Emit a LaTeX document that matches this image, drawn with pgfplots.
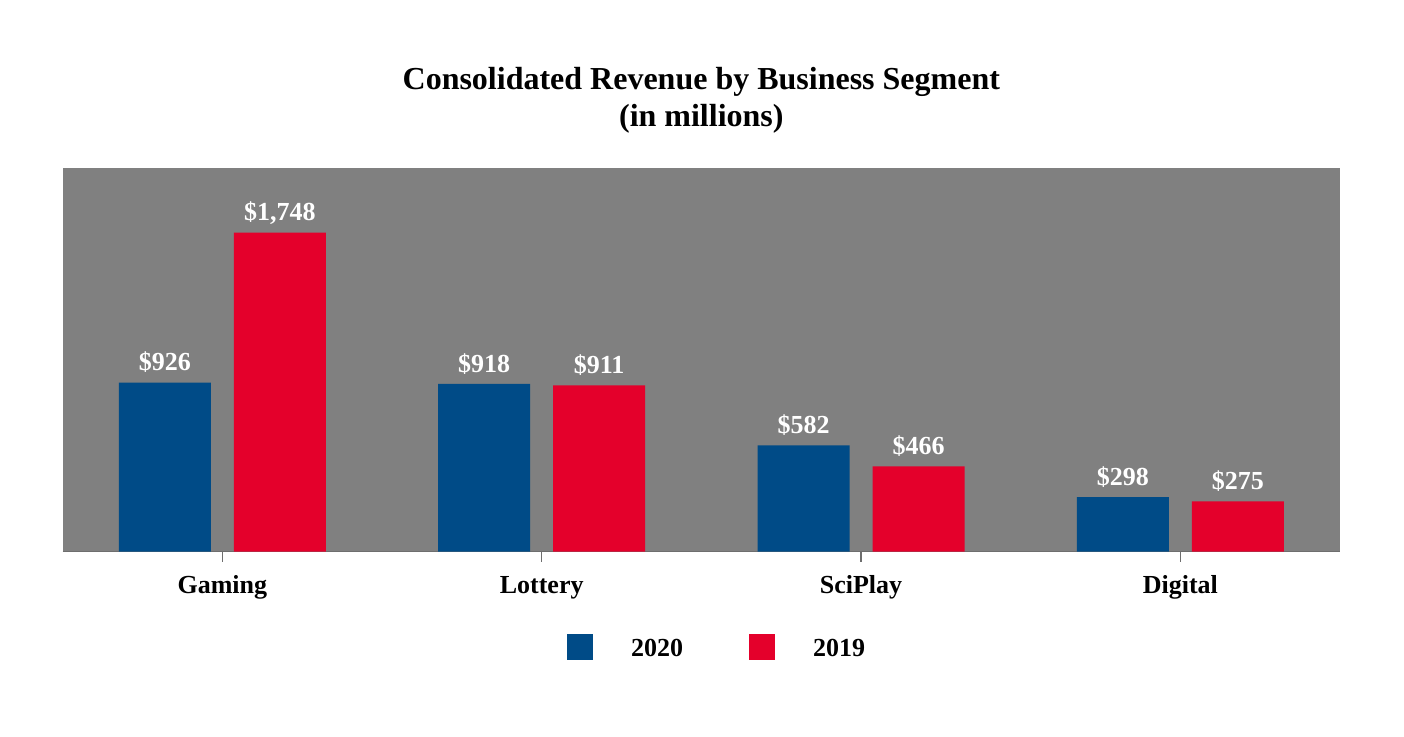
\documentclass[border=0pt]{standalone}
\usepackage{fontspec}
\setmainfont{Liberation Serif}
\usepackage{pgfplots}
\pgfplotsset{compat=1.18}
\definecolor{sgblue}{RGB}{0,75,135}
\definecolor{sgred}{RGB}{228,0,43}
\definecolor{bggray}{RGB}{128,128,128}
\definecolor{linegray}{RGB}{110,110,110}
\begin{document}
\begin{tikzpicture}
\path[use as bounding box] (-31.35pt,-92.25pt) rectangle (670.65pt,275.75pt);
\begin{axis}[
  at={(0pt,0pt)}, anchor=south west,
  scale only axis,
  width=638.65pt, height=191.6pt,
  ybar=11.5pt, bar width=46pt,
  xmin=-0.5, xmax=3.5, ymin=0, ymax=2100,
  enlargelimits=false,
  axis background/.style={fill=bggray},
  axis x line=bottom, axis y line=none,
  axis line style={-, draw=linegray, line width=0.6pt},
  x axis line style={-},
  xtick={0,1,2,3},
  xticklabels={Gaming,Lottery,SciPlay,Digital},
  tick align=outside, major tick length=5pt,
  tick style={draw=linegray, line width=0.6pt},
  xticklabel style={anchor=base, inner sep=0pt, yshift=-16.1pt, font=\bfseries\fontsize{13}{15}\selectfont},
  title={Consolidated Revenue by Business Segment\\(in millions)},
  title style={at={(0.5,1)}, anchor=center, yshift=27.9pt, align=center, font=\bfseries\fontsize{16}{18.5}\selectfont},
  nodes near coords={\$\pgfmathprintnumber{\pgfplotspointmeta}},
  every node near coord/.append style={anchor=base, inner sep=0pt, yshift=5.8pt, text=white, font=\bfseries\fontsize{13}{15}\selectfont},
  /pgf/number format/.cd, fixed, precision=0, 1000 sep={,}, assume math mode=true, /pgfplots/.cd,
  legend image code/.code={\fill[#1] (0pt,-5.1pt) rectangle (13pt,7.9pt);},
  legend style={draw=none, fill=none, inner sep=0pt, at={(axis description cs:0.3946,-0.2492)}, anchor=west,
    legend columns=-1, font=\bfseries\fontsize{13}{15}\selectfont,
    nodes={inner sep=0pt},
    /tikz/every odd column/.append style={column sep=19pt},
    /tikz/every even column/.append style={column sep=33pt}},
]
\addplot[fill=sgblue, draw=none] coordinates {(0,926) (1,918) (2,582) (3,298)};
\addplot[fill=sgred, draw=none] coordinates {(0,1748) (1,911) (2,466) (3,275)};
\legend{2020,2019}
\end{axis}
\end{tikzpicture}
\end{document}
